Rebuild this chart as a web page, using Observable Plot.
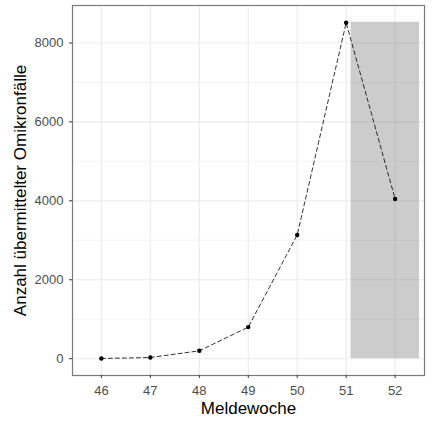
<!DOCTYPE html>
<html>
<head>
<meta charset="utf-8">
<script src="https://cdn.jsdelivr.net/npm/d3@7"></script>
<script src="https://cdn.jsdelivr.net/npm/@observablehq/plot@0.6"></script>
<style>
  html, body { margin: 0; padding: 0; background: #fff; }
  svg { font-family: "Liberation Sans", Arial, sans-serif; }
</style>
</head>
<body>
<div id="chart"></div>
<script>
const weeks = [46, 47, 48, 49, 50, 51, 52];
const cases = [5, 30, 200, 800, 3135, 8512, 4046];
const xTicks = [46, 47, 48, 49, 50, 51, 52];
const yTicks = [0, 2000, 4000, 6000, 8000];
const yMinor = [1000, 3000, 5000, 7000];
const shadeStart = [51.1];
const shadeEnd = [52.5];
const shadeTop = [8523];

const data = weeks.map((w, i) => ({week: w, n: cases[i]}));
const shade = shadeStart.map((s, i) => ({x1: s, x2: shadeEnd[i], y1: 0, y2: shadeTop[i]}));

const chart = Plot.plot({
  width: 432,
  height: 424,
  marginLeft: 72,
  marginTop: 5,
  marginRight: 8,
  marginBottom: 49,
  style: {fontFamily: '"Liberation Sans", Arial, sans-serif', background: "#fff"},
  x: {domain: [45.41, 52.6], ticks: xTicks, tickFormat: d => String(d), label: null},
  y: {domain: [-426, 8949], ticks: yTicks, tickFormat: d => String(d), label: null},
  marks: [
    Plot.ruleY(yMinor, {stroke: "#ebebeb", strokeWidth: 0.6}),
    Plot.gridY(yTicks, {stroke: "#ebebeb", strokeOpacity: 1, strokeWidth: 1.1}),
    Plot.gridX(xTicks, {stroke: "#ebebeb", strokeOpacity: 1, strokeWidth: 1.1}),
    Plot.rect(shade, {x1: "x1", x2: "x2", y1: "y1", y2: "y2", fill: "#808080", fillOpacity: 0.4}),
    Plot.line(data, {x: "week", y: "n", stroke: "black", strokeWidth: 0.8, strokeDasharray: "4,3"}),
    Plot.dot(data, {x: "week", y: "n", fill: "black", r: 2.2}),
    Plot.frame({stroke: "#7a7a7a", strokeWidth: 1.2}),
    Plot.axisX(xTicks, {tickSize: 3, tickPadding: 7, stroke: "#333", fill: "#4d4d4d", fontSize: 13, label: null, tickFormat: d => String(d)}),
    Plot.axisY(yTicks, {tickSize: 3, tickPadding: 6, stroke: "#333", fill: "#4d4d4d", fontSize: 13, label: null, tickFormat: d => String(d)}),
    Plot.text(["Meldewoche"], {frameAnchor: "bottom", dy: 38, fontSize: 17, fill: "black"}),
    Plot.text(["Anzahl übermittelter Omikronfälle"], {frameAnchor: "left", dx: -52, rotate: -90, textAnchor: "middle", fontSize: 17, fill: "black"})
  ]
});
document.getElementById("chart").appendChild(chart);
</script>
</body>
</html>
